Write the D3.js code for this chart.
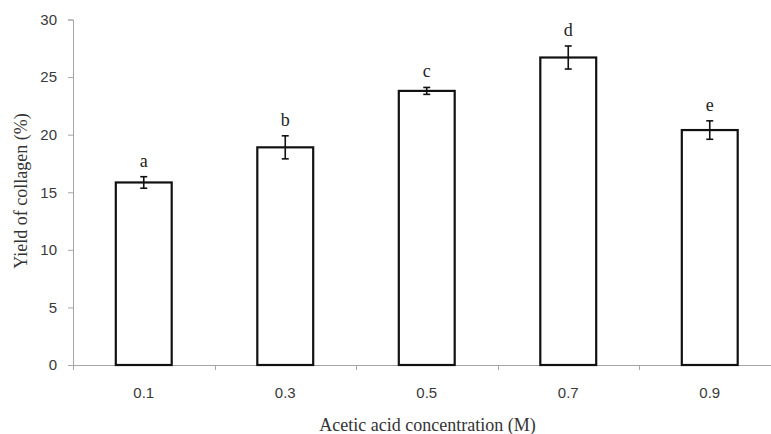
<!DOCTYPE html>
<html>
<head>
<meta charset="utf-8">
<script src="https://cdn.jsdelivr.net/npm/d3@7"></script>
<style>
  body { margin: 0; background: #fff; }
  svg { display: block; }
</style>
</head>
<body>
<div id="chart"></div>
<script>
// values
var concentrations = ["0.1", "0.3", "0.5", "0.7", "0.9"];
var yieldMeans = [15.85, 18.9, 23.8, 26.7, 20.4];
var yieldErrors = [0.5, 1.0, 0.3, 1.0, 0.8];
var groupLetters = ["a", "b", "c", "d", "e"];
var yTicks = [0, 5, 10, 15, 20, 25, 30];

var width = 771, height = 434;
var margin = {top: 19.5, right: -9.5, bottom: 69, left: 73};
var innerW = width - margin.left - margin.right,
    innerH = height - margin.top - margin.bottom;

var svg = d3.select("#chart")
  .append("svg")
    .attr("width", width)
    .attr("height", height);

var g = svg.append("g")
    .attr("transform", "translate(" + margin.left + "," + margin.top + ")");

var x = d3.scaleBand()
  .domain(concentrations)
  .range([0, innerW])
  .paddingInner(0.605)
  .paddingOuter(0.3025);

var y = d3.scaleLinear()
  .domain([0, 30])
  .range([innerH, 0]);

var axisColor = "#a6a6a6", labelColor = "#3a3a3a";

// y axis
var yAxis = g.append("g")
  .call(d3.axisLeft(y).tickValues(yTicks).tickSize(5).tickPadding(11));
yAxis.selectAll("path, line").attr("stroke", axisColor);
yAxis.selectAll("text")
  .attr("fill", labelColor)
  .style("font-family", "'Liberation Sans', Arial, sans-serif")
  .style("font-size", "15px");

// x axis: tick marks at band boundaries, labels at band centres
var step = x.step();
var boundaries = d3.range(concentrations.length + 1).map(function(i) { return i * step; });
g.append("line")
  .attr("x1", 0).attr("x2", innerW)
  .attr("y1", innerH + 0.5).attr("y2", innerH + 0.5)
  .attr("stroke", axisColor);
g.selectAll(".xtick")
  .data(boundaries)
  .enter()
  .append("line")
    .attr("class", "xtick")
    .attr("x1", function(d) { return Math.round(d) + 0.5; })
    .attr("x2", function(d) { return Math.round(d) + 0.5; })
    .attr("y1", innerH)
    .attr("y2", innerH + 5)
    .attr("stroke", axisColor);
g.selectAll(".xlab")
  .data(concentrations)
  .enter()
  .append("text")
    .attr("class", "xlab")
    .attr("x", function(d) { return x(d) + x.bandwidth() / 2; })
    .attr("y", innerH + 33)
    .attr("text-anchor", "middle")
    .attr("fill", labelColor)
    .style("font-family", "'Liberation Sans', Arial, sans-serif")
    .style("font-size", "15px")
    .text(function(d) { return d; });

// bars
g.selectAll(".bar")
  .data(concentrations)
  .enter()
  .append("rect")
    .attr("class", "bar")
    .attr("x", function(d) { return x(d); })
    .attr("y", function(d, i) { return y(yieldMeans[i]); })
    .attr("width", x.bandwidth())
    .attr("height", function(d, i) { return innerH - y(yieldMeans[i]); })
    .attr("fill", "#fff")
    .attr("stroke", "#111")
    .attr("stroke-width", 2.2);

// error bars
var cap = 3.5;
var err = g.selectAll(".err")
  .data(concentrations)
  .enter()
  .append("g")
    .attr("class", "err")
    .attr("stroke", "#111")
    .attr("stroke-width", 1.6);
err.append("line")
  .attr("x1", function(d) { return x(d) + x.bandwidth() / 2; })
  .attr("x2", function(d) { return x(d) + x.bandwidth() / 2; })
  .attr("y1", function(d, i) { return y(yieldMeans[i] + yieldErrors[i]); })
  .attr("y2", function(d, i) { return y(yieldMeans[i] - yieldErrors[i]); });
err.append("line")
  .attr("x1", function(d) { return x(d) + x.bandwidth() / 2 - cap; })
  .attr("x2", function(d) { return x(d) + x.bandwidth() / 2 + cap; })
  .attr("y1", function(d, i) { return y(yieldMeans[i] + yieldErrors[i]); })
  .attr("y2", function(d, i) { return y(yieldMeans[i] + yieldErrors[i]); });
err.append("line")
  .attr("x1", function(d) { return x(d) + x.bandwidth() / 2 - cap; })
  .attr("x2", function(d) { return x(d) + x.bandwidth() / 2 + cap; })
  .attr("y1", function(d, i) { return y(yieldMeans[i] - yieldErrors[i]); })
  .attr("y2", function(d, i) { return y(yieldMeans[i] - yieldErrors[i]); });

// significance letters
g.selectAll(".letter")
  .data(groupLetters)
  .enter()
  .append("text")
    .attr("class", "letter")
    .attr("x", function(d, i) { return x(concentrations[i]) + x.bandwidth() / 2; })
    .attr("y", function(d, i) { return y(yieldMeans[i] + yieldErrors[i]) - 10; })
    .attr("text-anchor", "middle")
    .attr("fill", "#222")
    .style("font-family", "'Liberation Serif', 'Times New Roman', serif")
    .style("font-size", "18px")
    .text(function(d) { return d; });

// axis titles
svg.append("text")
  .attr("x", 427.5)
  .attr("y", 431)
  .attr("text-anchor", "middle")
  .attr("fill", "#333")
  .style("font-family", "'Liberation Serif', 'Times New Roman', serif")
  .style("font-size", "18px")
  .text("Acetic acid concentration (M)");

svg.append("text")
  .attr("transform", "translate(27,191) rotate(-90)")
  .attr("text-anchor", "middle")
  .attr("fill", "#333")
  .style("font-family", "'Liberation Serif', 'Times New Roman', serif")
  .style("font-size", "18px")
  .text("Yield of collagen (%)");
</script>
</body>
</html>
